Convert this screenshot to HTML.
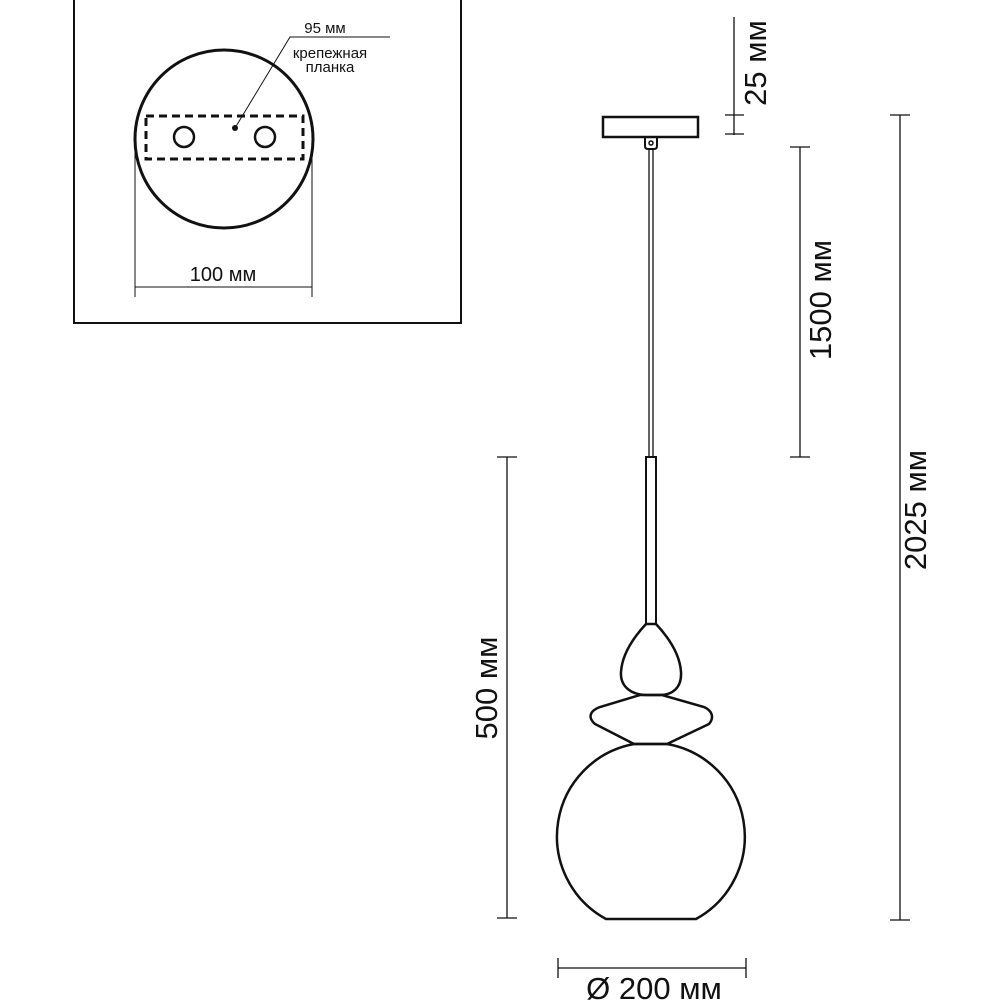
<!DOCTYPE html>
<html><head><meta charset="utf-8"><style>
body{margin:0;background:#fff}
svg{display:block}
text{font-family:"Liberation Sans",sans-serif;fill:#111}
</style></head><body>
<svg width="1000" height="1000" viewBox="0 0 1000 1000" xmlns="http://www.w3.org/2000/svg">
<g fill="none" stroke="#111">
<rect x="74" y="-2" width="387" height="325" stroke-width="2"/>
<circle cx="224" cy="139" r="89" stroke-width="3"/>
<rect x="146" y="116" width="157" height="43" stroke-width="3" stroke-dasharray="8,5"/>
<circle cx="184" cy="137" r="10" stroke-width="2.5"/>
<circle cx="265" cy="137" r="10" stroke-width="2.5"/>
<polyline points="235,128 290,37 390,37" stroke-width="1"/>
<line x1="135" y1="140" x2="135" y2="297" stroke-width="1"/>
<line x1="312" y1="140" x2="312" y2="297" stroke-width="1"/>
<line x1="135" y1="287" x2="312" y2="287" stroke-width="1"/>
<rect x="603" y="117" width="95" height="20" stroke-width="2.5"/>
<path d="M645,137 V146 Q645,149 648,149 H654 Q657,149 657,146 V137" stroke-width="2"/>
<circle cx="651" cy="143" r="2" stroke-width="1.5"/>
<line x1="649" y1="149" x2="649" y2="457" stroke-width="1.3"/>
<line x1="653" y1="149" x2="653" y2="457" stroke-width="1.3"/>
<rect x="646" y="457" width="10" height="167" stroke-width="2"/>
<path d="M646,624 C633,638 622,655 621,672 C620,688 633,695 647,695 H660 C672,695 682,688 681,672 C680,655 669,638 656,624 Z" stroke-width="2.5"/>
<path d="M640,695 L600,707 C589,711 588,718 595,724 L634,744 H667 L709,724 C714,718 713,711 704,707 L662,695 Z" stroke-width="2.5"/>
<path d="M634,744 H667 A94,94 0 0 1 696,919 H606 A94,94 0 0 1 634,744 Z" stroke-width="2.5"/>
<line x1="734" y1="17" x2="734" y2="135" stroke-width="1.3"/>
<line x1="725" y1="115" x2="744" y2="115" stroke-width="1.3"/>
<line x1="725" y1="134" x2="744" y2="134" stroke-width="1.3"/>
<line x1="800" y1="147" x2="800" y2="457" stroke-width="1.3"/>
<line x1="790" y1="147" x2="810" y2="147" stroke-width="1.3"/>
<line x1="790" y1="457" x2="810" y2="457" stroke-width="1.3"/>
<line x1="900" y1="115" x2="900" y2="920" stroke-width="1.3"/>
<line x1="890" y1="115" x2="910" y2="115" stroke-width="1.3"/>
<line x1="890" y1="920" x2="910" y2="920" stroke-width="1.3"/>
<line x1="507" y1="457" x2="507" y2="918" stroke-width="1.3"/>
<line x1="497" y1="457" x2="517" y2="457" stroke-width="1.3"/>
<line x1="497" y1="918" x2="517" y2="918" stroke-width="1.3"/>
<line x1="558" y1="968" x2="746" y2="968" stroke-width="1.3"/>
<line x1="558" y1="958" x2="558" y2="978" stroke-width="1.3"/>
<line x1="746" y1="958" x2="746" y2="978" stroke-width="1.3"/>
</g>
<circle cx="235" cy="128" r="3" fill="#111"/>
<text x="325" y="33" font-size="15" text-anchor="middle">95 мм</text>
<text x="330" y="58" font-size="15" text-anchor="middle">крепежная</text>
<text x="330" y="72" font-size="15" text-anchor="middle">планка</text>
<text x="223" y="281" font-size="20" text-anchor="middle">100 мм</text>
<text x="654" y="999" font-size="31" text-anchor="middle">Ø 200 мм</text>
<text transform="translate(766,63) rotate(-90)" font-size="31" text-anchor="middle">25 мм</text>
<text transform="translate(831,300) rotate(-90)" font-size="31" text-anchor="middle">1500 мм</text>
<text transform="translate(926,510) rotate(-90)" font-size="31" text-anchor="middle">2025 мм</text>
<text transform="translate(497,688) rotate(-90)" font-size="31" text-anchor="middle">500 мм</text>
</svg>
</body></html>
